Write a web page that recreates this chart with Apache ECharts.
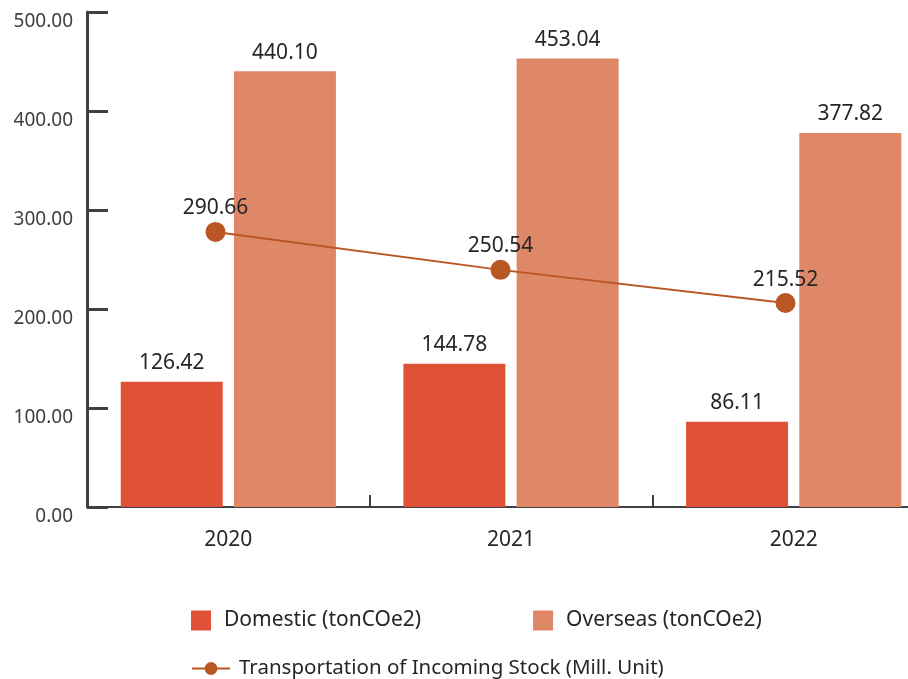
<!DOCTYPE html>
<html>
<head>
<meta charset="utf-8">
<script src="https://cdn.jsdelivr.net/npm/echarts@6/dist/echarts.min.js"></script>
<style>
  html, body { margin: 0; padding: 0; background: #ffffff; }
  #chart { width: 908px; height: 679px; }
</style>
</head>
<body>
<div id="chart"></div>
<script>
// Years on the category axis
const years = ['2020', '2021', '2022'];
// Emissions (tonCOe2)
const domestic = [126.42, 144.78, 86.11];
const overseas = [440.10, 453.04, 377.82];
// Transportation of incoming stock (Mill. Unit)
const transport = [290.66, 250.54, 215.52];
// Left axis ticks
const yTicks = [0, 100, 200, 300, 400, 500];

const names = {
  domestic: 'Domestic (tonCOe2)',
  overseas: 'Overseas (tonCOe2)',
  transport: 'Transportation of Incoming Stock (Mill. Unit)'
};

const FONT = '"Noto Sans", sans-serif';
const AXIS = '#404040';
const TEXT = '#262626';

const chart = echarts.init(document.getElementById('chart'), null, { renderer: 'canvas' });

chart.setOption({
  animation: false,
  backgroundColor: '#ffffff',
  textStyle: { fontFamily: FONT },
  grid: [
    // the plot runs past the right edge of the canvas
    { left: 87, top: 12, bottom: 172, width: 848, outerBoundsMode: 'none', containLabel: false },
    { left: 73, top: 12, bottom: 172, width: 855, outerBoundsMode: 'none', containLabel: false }
  ],
  legend: [
    {
      data: [names.domestic, names.overseas],
      left: 191, top: 610, padding: 0,
      itemWidth: 20, itemHeight: 20, itemGap: 112,
      icon: 'rect',
      textStyle: { fontSize: 21, color: TEXT, fontFamily: FONT, padding: [0, 0, 0, 8] }
    },
    {
      data: [names.transport],
      left: 191, top: 658, padding: 0,
      itemWidth: 38, itemHeight: 16,
      textStyle: { fontSize: 20.5, color: TEXT, fontFamily: FONT, padding: [0, 0, 0, 4] }
    }
  ],
  xAxis: [
    {
      type: 'category', gridIndex: 0, data: years,
      axisLine: { lineStyle: { color: AXIS, width: 2 } },
      axisTick: { show: true, inside: true, length: 12, lineStyle: { color: AXIS, width: 2 } },
      axisLabel: { fontSize: 21, color: TEXT, margin: 23, fontFamily: FONT }
    },
    { type: 'category', gridIndex: 1, data: years, show: false }
  ],
  yAxis: [
    {
      type: 'value', gridIndex: 0,
      min: yTicks[0], max: yTicks[yTicks.length - 1], interval: yTicks[1] - yTicks[0],
      axisLine: { show: true, lineStyle: { color: AXIS, width: 3 } },
      axisTick: { show: true, inside: true, length: 21, lineStyle: { color: AXIS, width: 3 } },
      splitLine: { show: false },
      axisLabel: {
        fontSize: 19, color: AXIS, margin: 14, fontFamily: FONT, verticalAlign: 'top',
        formatter: v => v.toFixed(2)
      }
    },
    { type: 'value', gridIndex: 1, min: 0, max: 523, show: false, splitLine: { show: false } }
  ],
  series: [
    {
      name: names.domestic, type: 'bar', xAxisIndex: 0, yAxisIndex: 0,
      data: domestic, barWidth: 102, barGap: '11%',
      itemStyle: { color: '#E05237' },
      label: { show: true, position: 'top', distance: 8, fontSize: 21, color: TEXT, fontFamily: FONT,
               formatter: p => p.value.toFixed(2) }
    },
    {
      name: names.overseas, type: 'bar', xAxisIndex: 0, yAxisIndex: 0,
      data: overseas, barWidth: 102, barGap: '11%',
      itemStyle: { color: '#DF8868' },
      label: { show: true, position: 'top', distance: 8, fontSize: 21, color: TEXT, fontFamily: FONT,
               formatter: p => p.value.toFixed(2) }
    },
    {
      name: names.transport, type: 'line', xAxisIndex: 1, yAxisIndex: 1,
      data: transport,
      symbol: 'circle', symbolSize: 20,
      lineStyle: { color: '#B85624', width: 2 },
      itemStyle: { color: '#B85624' },
      label: { show: true, position: 'top', distance: 3, fontSize: 21, color: TEXT, fontFamily: FONT,
               formatter: p => p.value.toFixed(2) },
      z: 5
    }
  ]
});
</script>
</body>
</html>
